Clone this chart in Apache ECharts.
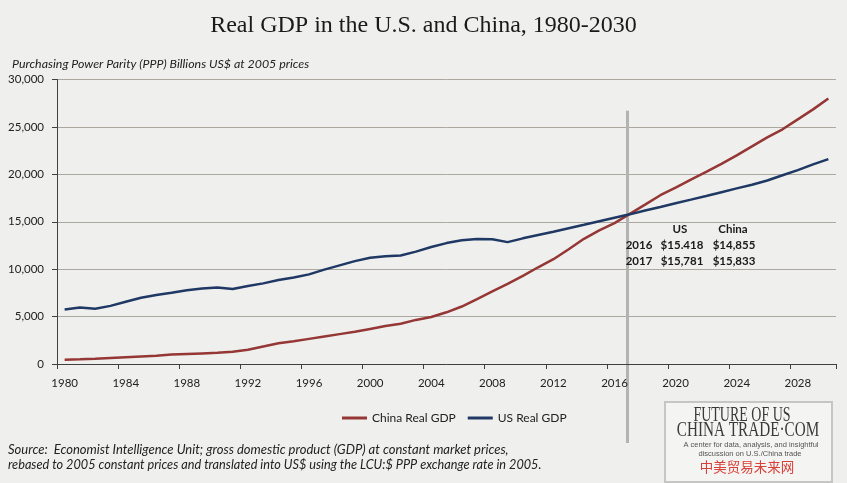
<!DOCTYPE html>
<html><head><meta charset="utf-8">
<script src="https://cdn.jsdelivr.net/npm/echarts@6/dist/echarts.min.js"></script>
<style>html,body{margin:0;padding:0;background:#efefed}#c{width:847px;height:483px}</style>
</head><body><div id="c"></div>
<script>
const years = ['1980','1981','1982','1983','1984','1985','1986','1987','1988','1989',
  '1990','1991','1992','1993','1994','1995','1996','1997','1998','1999',
  '2000','2001','2002','2003','2004','2005','2006','2007','2008','2009',
  '2010','2011','2012','2013','2014','2015','2016','2017','2018','2019',
  '2020','2021','2022','2023','2024','2025','2026','2027','2028','2029','2030'];
const chinaGDP = [450,500,560,640,720,800,880,1000,1060,1120,
  1180,1290,1500,1850,2180,2400,2650,2900,3150,3400,
  3700,4000,4250,4650,4950,5450,6060,6850,7650,8450,
  9300,10200,11050,12100,13200,14100,14855,15833,16800,17800,
  18600,19450,20250,21100,22000,22950,23900,24750,25800,26850,28000];
const usGDP = [5750,5950,5830,6130,6560,6980,7270,7520,7780,7970,
  8060,7900,8230,8500,8850,9130,9450,9950,10400,10850,
  11200,11350,11450,11850,12330,12750,13050,13190,13160,12850,
  13250,13600,13950,14320,14680,15050,15418,15781,16180,16560,
  16950,17330,17720,18120,18520,18900,19350,19900,20450,21050,21600];
const yTicks = [0,5000,10000,15000,20000,25000,30000];
const annotHeader = ['US','China'];
const annotYears = ['2016','2017'];
const annotUS = ['$15.418','$15,781'];
const annotChina = ['$14,855','$15,833'];
const crossYear = 2016.85;

const F = 'Lato, "Open Sans", sans-serif';
const chart = echarts.init(document.getElementById('c'));
chart.setOption({
  backgroundColor: '#efefed',
  animation: false,
  title: [
    {text: 'Real GDP in the U.S. and China, 1980-2030', left: 'center', top: 9,
     textStyle: {fontFamily: '"Liberation Serif", serif', fontSize: 24, fontWeight: 'normal', color: '#1a1a1a'}},
    {text: 'Purchasing Power Parity (PPP) Billions US$ at 2005 prices', left: 7, top: 53,
     textStyle: {fontFamily: F, fontSize: 12.4, fontStyle: 'italic', fontWeight: 'normal', color: '#222'}}
  ],
  legend: {
    data: ['China Real GDP', 'US Real GDP'], left: 342, top: 412, icon: 'rect', padding: 0,
    itemWidth: 25, itemHeight: 3, itemGap: 12,
    textStyle: {fontFamily: F, fontSize: 12, color: '#222'}
  },
  grid: {left: 57, right: 11, top: 79.5, bottom: 119, containLabel: false},
  xAxis: {
    type: 'category', data: years, boundaryGap: true,
    axisLine: {lineStyle: {color: '#404040', width: 1}},
    axisTick: {show: true, interval: 3, length: 5, lineStyle: {color: '#404040'}},
    axisLabel: {interval: 3, margin: 13, fontFamily: F, fontSize: 11.5, color: '#222'},
    splitLine: {show: false}
  },
  yAxis: {
    type: 'value', min: yTicks[0], max: yTicks[yTicks.length-1], interval: yTicks[1]-yTicks[0],
    axisLine: {show: true, lineStyle: {color: '#404040', width: 1}},
    axisTick: {show: true, length: 5, lineStyle: {color: '#404040'}},
    axisLabel: {margin: 13, fontFamily: F, fontSize: 11.5, color: '#222',
      formatter: v => v.toString().replace(/\B(?=(\d{3})+(?!\d))/g, ',')},
    splitLine: {lineStyle: {color: '#aba7a1', width: 1}}
  },
  series: [
    {name: 'China Real GDP', type: 'line', data: chinaGDP, symbol: 'none', smooth: false,
     lineStyle: {width: 2.5, color: '#953735'}, itemStyle: {color: '#953735'}, z: 3},
    {name: 'US Real GDP', type: 'line', data: usGDP, symbol: 'none', smooth: false,
     lineStyle: {width: 2.5, color: '#1f3864'}, itemStyle: {color: '#1f3864'}, z: 4}
  ]
});

const i0 = Math.floor(crossYear) - 1980;
const p0 = chart.convertToPixel({xAxisIndex: 0}, years[i0]);
const p1 = chart.convertToPixel({xAxisIndex: 0}, years[i0+1]);
const vx = p0 + (crossYear - Math.floor(crossYear)) * (p1 - p0);
const vTop = chart.convertToPixel({yAxisIndex: 0}, 26700);

const bold = {fontFamily: F, fontSize: 11.5, fontWeight: 'bold', fill: '#1a1a1a', textAlign: 'center', textVerticalAlign: 'middle'};
const g = [
  {type: 'line', shape: {x1: vx, y1: vTop, x2: vx, y2: 443}, style: {stroke: '#b3b3b1', lineWidth: 3}, z: 0},
  {type: 'text', x: 680, y: 229, z: 5, style: Object.assign({text: annotHeader[0]}, bold)},
  {type: 'text', x: 733, y: 229, z: 5, style: Object.assign({text: annotHeader[1]}, bold)}
];
annotYears.forEach((yr, k) => {
  const y = 245 + k * 16.5;
  g.push({type: 'text', x: 639, y: y, z: 5, style: Object.assign({text: yr}, bold)});
  g.push({type: 'text', x: 682, y: y, z: 5, style: Object.assign({text: annotUS[k]}, bold)});
  g.push({type: 'text', x: 734, y: y, z: 5, style: Object.assign({text: annotChina[k]}, bold)});
});
// source note
g.push({type: 'text', x: 8, y: 450, style: {text: 'Source:  Economist Intelligence Unit; gross domestic product (GDP) at constant market prices,', fontFamily: F, fontSize: 13, fontStyle: 'italic', fill: '#222', textVerticalAlign: 'middle'}});
g.push({type: 'text', x: 8, y: 465, style: {text: 'rebased to 2005 constant prices and translated into US$ using the LCU:$ PPP exchange rate in 2005.', fontFamily: F, fontSize: 12.7, fontStyle: 'italic', fill: '#222', textVerticalAlign: 'middle'}});
// logo
g.push({type: 'rect', shape: {x: 665, y: 402, width: 167, height: 80}, style: {fill: '#f4f4f2', stroke: '#c6c6c4', lineWidth: 2}});
g.push({type: 'text', x: 742, y: 416, scaleX: 0.7, style: {text: 'FUTURE OF US', fontFamily: '"Liberation Serif", serif', fontSize: 20, fill: '#3a3a3a', textAlign: 'center', textVerticalAlign: 'middle'}});
g.push({type: 'text', x: 748, y: 431, scaleX: 0.76, style: {text: 'CHINA TRADE·COM', fontFamily: '"Liberation Serif", serif', fontSize: 20, fill: '#3a3a3a', textAlign: 'center', textVerticalAlign: 'middle'}});
g.push({type: 'text', x: 751, y: 445, style: {text: 'A center for data, analysis, and insightful', fontFamily: '"Liberation Sans", sans-serif', fontSize: 7.5, fill: '#555', textAlign: 'center', textVerticalAlign: 'middle'}});
g.push({type: 'text', x: 750, y: 454, style: {text: 'discussion on U.S./China trade', fontFamily: '"Liberation Sans", sans-serif', fontSize: 7.5, fill: '#555', textAlign: 'center', textVerticalAlign: 'middle'}});
g.push({type: 'text', x: 747, y: 467, style: {text: '中美贸易未来网', fontFamily: '"Noto Sans CJK SC", sans-serif', fontSize: 13.5, fill: '#d9413a', textAlign: 'center', textVerticalAlign: 'middle'}});
chart.setOption({graphic: g});
</script></body></html>
